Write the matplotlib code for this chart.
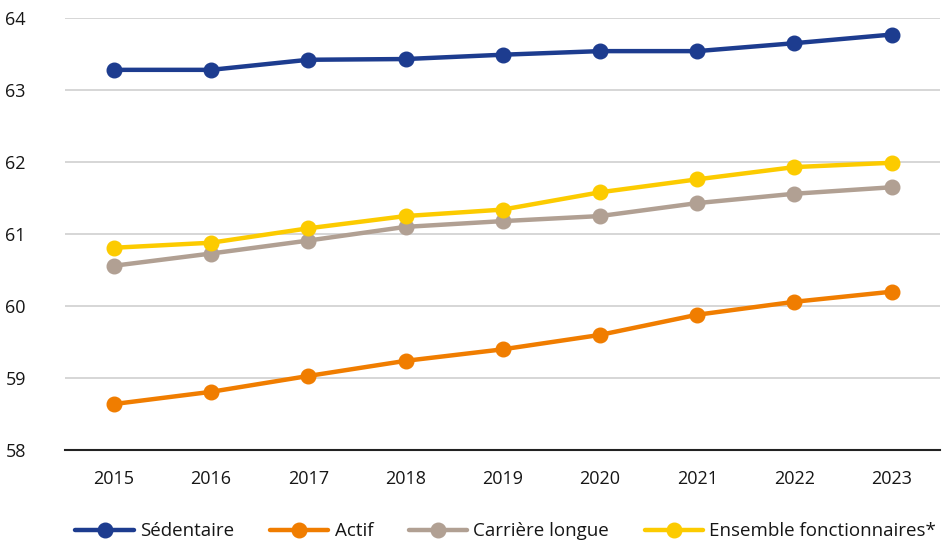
import matplotlib
matplotlib.use("Agg")
import matplotlib.pyplot as plt

years = [2015, 2016, 2017, 2018, 2019, 2020, 2021, 2022, 2023]
sedentaire = [63.28, 63.28, 63.42, 63.43, 63.49, 63.54, 63.54, 63.65, 63.77]
actif = [58.64, 58.81, 59.03, 59.24, 59.40, 59.60, 59.88, 60.06, 60.20]
carriere_longue = [60.56, 60.73, 60.91, 61.10, 61.18, 61.25, 61.43, 61.56, 61.65]
ensemble = [60.81, 60.88, 61.08, 61.25, 61.34, 61.58, 61.76, 61.93, 61.99]
y_ticks = [58, 59, 60, 61, 62, 63, 64]

series = [
    ("Sédentaire", sedentaire, "#1d3c8f"),
    ("Actif", actif, "#f07d00"),
    ("Carrière longue", carriere_longue, "#b1a093"),
    ("Ensemble fonctionnaires*", ensemble, "#fccb00"),
]

plt.rcParams["font.family"] = ["Open Sans", "DejaVu Sans"]

fig = plt.figure(figsize=(9.45, 5.45), dpi=100)
ax = fig.add_axes([0.069, 0.174, 0.926, 0.793])

x = list(range(len(years)))
for name, vals, color in series:
    ax.plot(x, vals, color=color, lw=3.2, marker="o", ms=10.5,
            label=name, solid_capstyle="round", zorder=3)

ax.set_xlim(-0.5, len(years) - 0.5)
ax.set_ylim(58, 64)
ax.set_xticks(x)
ax.set_xticklabels([str(y) for y in years])
ax.set_yticks(y_ticks)
ax.set_yticklabels([str(t) for t in y_ticks])
ax.grid(axis="y", color="#d0d0d0", lw=1.2, zorder=0)
for s in ["top", "right", "left"]:
    ax.spines[s].set_visible(False)
ax.spines["bottom"].set_color("#222222")
ax.spines["bottom"].set_linewidth(1.5)
ax.tick_params(axis="both", length=0, labelsize=13, colors="#161616")
ax.tick_params(axis="x", pad=14)
ax.tick_params(axis="y", pad=43)
for lbl in ax.get_yticklabels():
    lbl.set_horizontalalignment("left")

fig.legend(loc="lower left", bbox_to_anchor=(0.062, -0.022), ncol=4,
           frameon=False, fontsize=13.5, handlelength=3.1, columnspacing=1.9,
           handletextpad=0.35, labelcolor="#161616")

fig.savefig("out.png", dpi=100)
